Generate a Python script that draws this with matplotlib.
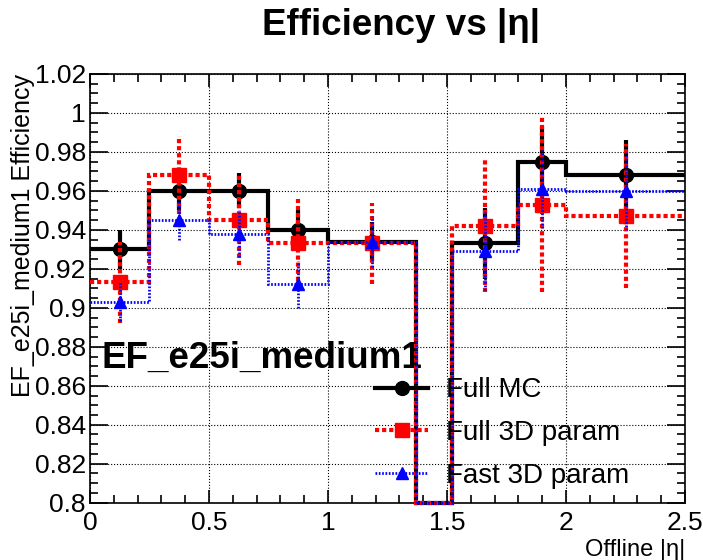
import matplotlib
matplotlib.use("Agg")
import matplotlib.pyplot as plt
from matplotlib.lines import Line2D
from matplotlib.ticker import MultipleLocator
import numpy as np

plt.rcParams['font.family'] = ['Liberation Sans', 'DejaVu Sans']

# bin edges in offline |eta| (crack bin 1.37-1.52 is empty)
edges = [0, 0.25, 0.5, 0.75, 1.0, 1.37, 1.52, 1.8, 2.0, 2.5]

full_mc = [0.930, 0.960, 0.960, 0.940, 0.934, 0.0, 0.933, 0.975, 0.968]
full_mc_err = [0.010, 0.010, 0.009, 0.010, 0.010, 0.0, 0.018, 0.018, 0.018]

full_3d = [0.913, 0.968, 0.945, 0.933, 0.933, 0.0, 0.942, 0.953, 0.947]
full_3d_err = [0.021, 0.020, 0.023, 0.023, 0.021, 0.0, 0.034, 0.045, 0.037]

fast_3d = [0.903, 0.945, 0.938, 0.912, 0.934, 0.0, 0.929, 0.961, 0.960]
fast_3d_err = [0.010, 0.010, 0.012, 0.012, 0.013, 0.0, 0.020, 0.020, 0.020]

labels = ["Full MC", "Full 3D param", "Fast 3D param"]

xticks = [0, 0.5, 1, 1.5, 2, 2.5]
xticklabels = ["0", "0.5", "1", "1.5", "2", "2.5"]
yticks = [0.8, 0.82, 0.84, 0.86, 0.88, 0.9, 0.92, 0.94, 0.96, 0.98, 1.0, 1.02]
yticklabels = ["0.8", "0.82", "0.84", "0.86", "0.88", "0.9", "0.92",
               "0.94", "0.96", "0.98", "1", "1.02"]

ymin, ymax = 0.8, 1.02

edges_arr = np.array(edges)
centers = (edges_arr[:-1] + edges_arr[1:]) / 2

fig = plt.figure(figsize=(7.03, 5.6), dpi=100)
ax = fig.add_axes([0.128, 0.1023, 0.8464, 0.7657])

red_ls = (0, (1.0, 0.7))
blue_ls = (0, (0.6, 0.6))

# histogram outlines, clipped to the frame bottom like ROOT does
ax.stairs(np.maximum(full_mc, ymin), edges, baseline=None, color='black',
          lw=3.0, zorder=3, clip_on=False)
ax.stairs(np.maximum(full_3d, ymin), edges, baseline=None, color='red',
          lw=3.0, ls=red_ls, zorder=4, clip_on=False)
ax.stairs(np.maximum(fast_3d, ymin), edges, baseline=None, color='blue',
          lw=2.0, ls=blue_ls, zorder=5, clip_on=False)

eb = ax.errorbar(centers, full_mc, yerr=full_mc_err, fmt='o', color='black',
                 ms=10, elinewidth=3.0, capsize=0, zorder=3)
eb = ax.errorbar(centers, full_3d, yerr=full_3d_err, fmt='s', color='red',
                 ms=10, elinewidth=3.0, capsize=0, zorder=4)
eb.lines[2][0].set_linestyle(red_ls)
eb = ax.errorbar(centers, fast_3d, yerr=fast_3d_err, fmt='^', color='blue',
                 ms=9, elinewidth=2.0, capsize=0, zorder=5)
eb.lines[2][0].set_linestyle(blue_ls)

ax.set_xlim(0, 2.5)
ax.set_ylim(ymin, ymax)
ax.set_xticks(xticks)
ax.set_xticklabels(xticklabels)
ax.set_yticks(yticks)
ax.set_yticklabels(yticklabels)
ax.xaxis.set_minor_locator(MultipleLocator(0.1))
ax.yaxis.set_minor_locator(MultipleLocator(0.005))

ax.tick_params(axis='both', which='both', direction='in', top=True, right=True,
               labelsize=19, width=1.2)
ax.tick_params(axis='x', which='major', length=9.5, pad=6)
ax.tick_params(axis='x', which='minor', length=5.5)
ax.tick_params(axis='y', which='major', length=13, pad=3)
ax.tick_params(axis='y', which='minor', length=6)
for s in ax.spines.values():
    s.set_linewidth(1.2)

ax.grid(True, which='major', ls=':', color='black', lw=0.8)
ax.set_axisbelow(True)

ax.set_xlabel("Offline |η|", loc='right', fontsize=17)
ax.set_ylabel("EF_e25i_medium1 Efficiency", loc='top', fontsize=18)
ax.xaxis.set_label_coords(1.0, -0.085)
ax.yaxis.set_label_coords(-0.092, 1.0)

fig.text(0.57, 0.955, "Efficiency vs |η|", ha='center', va='center',
         fontsize=26.5, fontweight='bold')

ax.text(0.02, 0.314, "EF_e25i_medium1", transform=ax.transAxes,
        fontsize=26.5, fontweight='bold', va='baseline')

handles = [
    Line2D([], [], color='black', lw=3.0, marker='o', ms=10),
    Line2D([], [], color='red', lw=3.0, ls=red_ls, marker='s', ms=10),
    Line2D([], [], color='blue', lw=2.0, ls=blue_ls, marker='^', ms=9),
]
ax.legend(handles, labels, loc='upper left', bbox_to_anchor=(0.447, 0.338),
          frameon=False, fontsize=20, handlelength=1.9, handletextpad=0.65,
          labelspacing=0.6, borderpad=0.2)

fig.savefig("out.png", dpi=100)
